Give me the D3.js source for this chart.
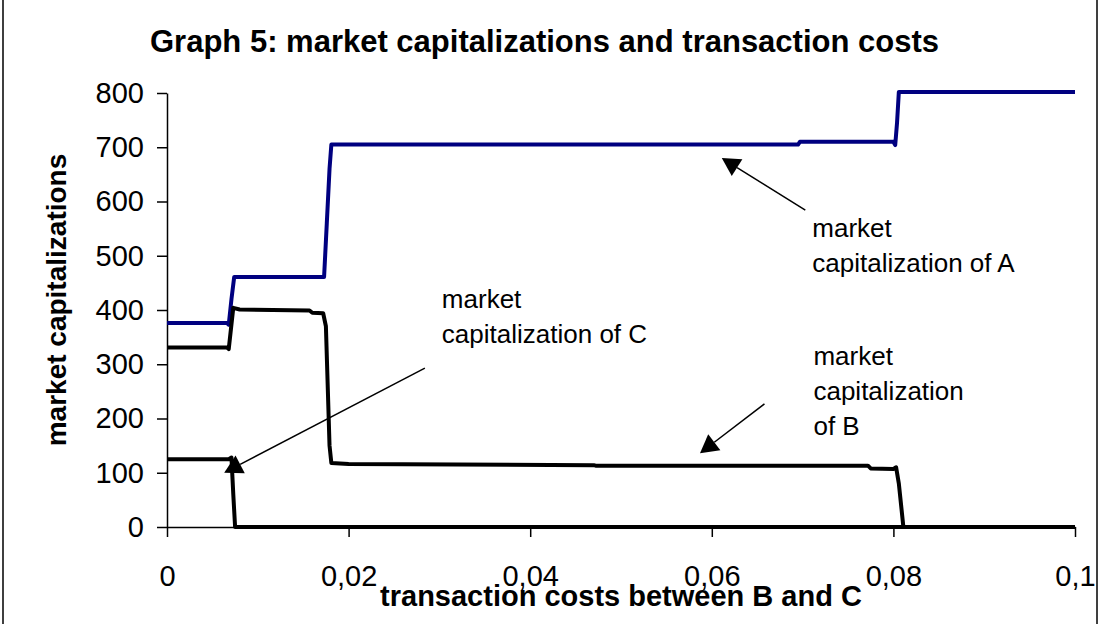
<!DOCTYPE html>
<html>
<head>
<meta charset="utf-8">
<script src="https://cdn.jsdelivr.net/npm/d3@7"></script>
<style>
  body { margin: 0; background: #fff; }
  svg { display: block; font-family: "Liberation Sans", Arial, sans-serif; }
</style>
</head>
<body>
<svg id="chart" width="1104" height="624"></svg>
<script>
// values
const xA = [0, 0.0066, 0.0068, 0.0071, 0.0074, 0.0173, 0.0176, 0.0179, 0.0181, 0.0695, 0.0697, 0.0800, 0.0802, 0.0804, 0.0806, 0.1];
const capA = [376, 376, 373, 420, 461, 461, 560, 660, 705, 705, 710, 710, 704, 745, 802, 802];

const xB = [0, 0.0066, 0.0068, 0.0073, 0.0080, 0.0157, 0.0160, 0.0172, 0.0175, 0.0179, 0.0181, 0.0200, 0.0470, 0.0472, 0.0772, 0.0775, 0.0800, 0.0803, 0.0806, 0.0811, 0.1];
const capB = [331, 331, 328, 404, 401, 399, 395, 394, 370, 150, 118, 116, 114, 113, 113, 108, 107, 110, 80, 0, 0];

const xC = [0, 0.0068, 0.0071, 0.0073, 0.0075, 0.1];
const capC = [125, 125, 128, 60, 0, 0];

const xTicks = [0, 0.02, 0.04, 0.06, 0.08, 0.1];
const yTicks = [0, 100, 200, 300, 400, 500, 600, 700, 800];

// annotation labels, arrow tip and tail in data units
const noteLines = [["market", "capitalization of A"], ["market", "capitalization", "of B"], ["market", "capitalization of C"]];
const noteTip = [[0.0611, 680], [0.0587, 136], [0.0063, 100]];
const noteTail = [[0.0703, 584], [0.0658, 227], [0.0284, 293]];

const svg = d3.select("#chart");
const W = 1104, H = 624;

// outer frame (top and bottom fall outside the picture)
svg.append("rect")
    .attr("x", 3).attr("y", -10)
    .attr("width", 1094).attr("height", H + 20)
    .attr("fill", "#fff").attr("stroke", "#000").attr("stroke-width", 1.5);

const x = d3.scaleLinear().domain([0, 0.1]).range([167, 1075]);
const y = d3.scaleLinear().domain([0, 800]).range([527, 93]);

// axes
const fmt = d => String(d).replace(".", ",");
const gx = svg.append("g")
    .attr("transform", `translate(0,${y(0)})`)
    .call(d3.axisBottom(x).tickValues(xTicks).tickFormat(fmt).tickSize(10).tickSizeOuter(0).tickPadding(28));
const gy = svg.append("g")
    .attr("transform", `translate(${x(0)},0)`)
    .call(d3.axisLeft(y).tickValues(yTicks).tickSize(10).tickSizeOuter(0).tickPadding(13));
[gx, gy].forEach(g => {
    g.selectAll("path, line").attr("stroke", "#000").attr("stroke-width", 1.5);
    g.selectAll("text").attr("font-size", 29).attr("fill", "#000")
        .attr("font-family", "'Liberation Sans', Arial, sans-serif");
});

// series
const line = d3.line().x(d => x(d[0])).y(d => y(d[1]));
const series = [
    { xs: xA, ys: capA, color: "#000080" },
    { xs: xB, ys: capB, color: "#000" },
    { xs: xC, ys: capC, color: "#000" }
];
series.forEach(s => {
    svg.append("path")
        .datum(s.xs.map((v, i) => [v, s.ys[i]]))
        .attr("d", line)
        .attr("fill", "none")
        .attr("stroke", s.color)
        .attr("stroke-width", 4)
        .attr("stroke-linejoin", "round");
});

// annotations with arrows
const textOffset = [[7, 27], [49, -39], [17, -60]];
noteLines.forEach((lines, i) => {
    const tx = x(noteTail[i][0]), ty = y(noteTail[i][1]);
    const hx = x(noteTip[i][0]), hy = y(noteTip[i][1]);
    const ang = Math.atan2(hy - ty, hx - tx);
    const len = 18, half = 10;
    const bx = hx - len * Math.cos(ang), by = hy - len * Math.sin(ang);
    svg.append("line")
        .attr("x1", tx).attr("y1", ty).attr("x2", bx).attr("y2", by)
        .attr("stroke", "#000").attr("stroke-width", 1.5);
    svg.append("path")
        .attr("d", `M${hx},${hy}L${bx + half * Math.sin(ang)},${by - half * Math.cos(ang)}L${bx - half * Math.sin(ang)},${by + half * Math.cos(ang)}Z`)
        .attr("fill", "#000");
    const t = svg.append("text")
        .attr("font-size", 26)
        .attr("fill", "#000");
    lines.forEach((l, k) => {
        t.append("tspan")
            .attr("x", tx + textOffset[i][0])
            .attr("y", ty + textOffset[i][1] + k * 35)
            .text(l);
    });
});

// titles
svg.append("text")
    .attr("x", 150).attr("y", 52)
    .attr("font-size", 31).attr("font-weight", "bold")
    .text("Graph 5: market capitalizations and transaction costs");
svg.append("text")
    .attr("x", (x(0) + x(0.1)) / 2).attr("y", 606)
    .attr("text-anchor", "middle")
    .attr("font-size", 29).attr("font-weight", "bold")
    .text("transaction costs between B and C");
svg.append("text")
    .attr("transform", "translate(66,300) rotate(-90)")
    .attr("text-anchor", "middle")
    .attr("font-size", 28).attr("font-weight", "bold")
    .text("market capitalizations");
</script>
</body>
</html>
